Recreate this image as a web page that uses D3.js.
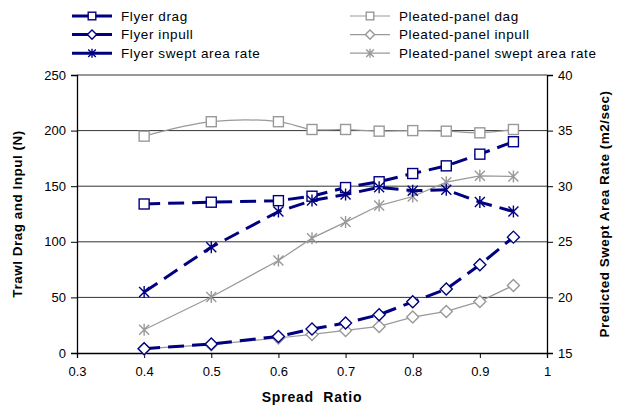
<!DOCTYPE html>
<html>
<head>
<meta charset="utf-8">
<script src="https://cdn.jsdelivr.net/npm/d3@7"></script>
<style>
  body { margin: 0; background: #fff; }
  text { font-family: "Liberation Sans", Arial, sans-serif; }
</style>
</head>
<body>
<div id="chart"></div>
<script>
// spread ratio categories
const spread = [0.4, 0.5, 0.6, 0.65, 0.7, 0.75, 0.8, 0.85, 0.9, 0.95]

// left axis (N)
const flyerDrag = [134, 135.6, 137, 141, 148.8, 154, 161.4, 168.3, 178.8, 190]
const flyerInpull = [3.9, 8.1, 14.9, 21.5, 27, 34.4, 46, 57.5, 79.3, 104.2]
const pleatedDrag = [195, 208, 208, 201, 201, 199.5, 200, 199.5, 198, 201]
const pleatedInpull = [3.9, 7.5, 13.5, 16.7, 20.3, 23.9, 32.3, 37.4, 46.4, 60.8]

// right axis (m2/sec)
const flyerSwept = [20.48, 24.52, 27.72, 28.71, 29.25, 29.9, 29.6, 29.67, 28.57, 27.72]
const pleatedSwept = [17.09, 20.03, 23.32, 25.33, 26.77, 28.26, 29.07, 30.36, 30.93, 30.87]

const xTicks = [0.3, 0.4, 0.5, 0.6, 0.7, 0.8, 0.9, 1]
const yLeftTicks = [0, 50, 100, 150, 200, 250]
const yRightTicks = [15, 20, 25, 30, 35, 40]

const W = 624, H = 410
const margin = { top: 75, right: 77, bottom: 57, left: 77 }
const width = W - margin.left - margin.right
const height = H - margin.top - margin.bottom

const navy = "#000080", gray = "#999999"

const svg = d3.select("#chart").append("svg")
  .attr("width", W).attr("height", H)

const g = svg.append("g")
  .attr("transform", `translate(${margin.left},${margin.top})`)

const x = d3.scaleLinear().domain([0.3, 1]).range([0, width])
const yL = d3.scaleLinear().domain([0, 250]).range([height, 0])
const yR = d3.scaleLinear().domain([15, 40]).range([height, 0])

// gridlines
g.append("g").selectAll("line")
  .data(yLeftTicks.filter(d => d > 0))
  .join("line")
  .attr("x1", 0).attr("x2", width)
  .attr("y1", d => yL(d)).attr("y2", d => yL(d))
  .attr("stroke", "#333").attr("stroke-width", 1)

// axes
const styleAxis = sel => {
  sel.select(".domain").attr("stroke", "#000").attr("stroke-width", 1.3)
  sel.selectAll(".tick line").attr("stroke", "#000")
  sel.selectAll(".tick text").attr("font-size", 13).attr("fill", "#000")
    .style("font-family", '"Liberation Sans", Arial, sans-serif')
}

g.append("g")
  .attr("transform", `translate(0,${height})`)
  .call(d3.axisBottom(x).tickValues(xTicks).tickFormat(d3.format("")).tickSizeOuter(0).tickSize(5).tickPadding(9))
  .call(styleAxis)

g.append("g")
  .call(d3.axisLeft(yL).tickValues(yLeftTicks).tickSizeOuter(0).tickSize(6).tickPadding(5))
  .call(styleAxis)

g.append("g")
  .attr("transform", `translate(${width},0)`)
  .call(d3.axisRight(yR).tickValues(yRightTicks).tickSizeOuter(0).tickSize(6).tickPadding(5))
  .call(styleAxis)

// markers
function drawMarker(sel, type, color, r = 5) {
  if (type === "square") {
    sel.append("rect").attr("x", -r).attr("y", -r).attr("width", 2 * r).attr("height", 2 * r)
      .attr("fill", "#fff").attr("stroke", color).attr("stroke-width", 1.4)
  } else if (type === "diamond") {
    const d = r * 1.2
    sel.append("path").attr("d", `M0,${-d}L${d},0L0,${d}L${-d},0Z`)
      .attr("fill", "#fff").attr("stroke", color).attr("stroke-width", 1.4)
  } else {
    const d = r * 1.2
    sel.append("path").attr("d", `M0,${-d}V${d}M${-r},${-r}L${r},${r}M${-r},${r}L${r},${-r}`)
      .attr("fill", "none").attr("stroke", color).attr("stroke-width", 1.4)
  }
}

const series = [
  { name: "Pleated-panel dag", values: pleatedDrag, y: yL, color: gray, marker: "square", smooth: true },
  { name: "Pleated-panel inpull", values: pleatedInpull, y: yL, color: gray, marker: "diamond" },
  { name: "Pleated-panel swept area rate", values: pleatedSwept, y: yR, color: gray, marker: "star" },
  { name: "Flyer drag", values: flyerDrag, y: yL, color: navy, marker: "square", dashed: true },
  { name: "Flyer inpull", values: flyerInpull, y: yL, color: navy, marker: "diamond", dashed: true },
  { name: "Flyer swept area rate", values: flyerSwept, y: yR, color: navy, marker: "star", dashed: true },
]

series.forEach(s => {
  const pts = spread.map((d, i) => [d, s.values[i]])
  const line = d3.line()
    .x(d => x(d[0])).y(d => s.y(d[1]))
    .curve(s.smooth ? d3.curveCatmullRom.alpha(0.5) : d3.curveLinear)
  g.append("path")
    .datum(pts)
    .attr("d", line)
    .attr("fill", "none")
    .attr("stroke", s.color)
    .attr("stroke-width", s.dashed ? 3 : 1.2)
    .attr("stroke-dasharray", s.dashed ? "16,8" : null)
  g.append("g").selectAll("g")
    .data(pts)
    .join("g")
    .attr("transform", d => `translate(${x(d[0])},${s.y(d[1])})`)
    .each(function () { drawMarker(d3.select(this), s.marker, s.color) })
})

// legend
const legendItems = [
  { col: 0, row: 0, s: series[3] }, { col: 0, row: 1, s: series[4] }, { col: 0, row: 2, s: series[5] },
  { col: 1, row: 0, s: series[0] }, { col: 1, row: 1, s: series[1] }, { col: 1, row: 2, s: series[2] },
]
const legend = svg.append("g")
legendItems.forEach(it => {
  const lx = it.col === 0 ? 72 : 350
  const ly = 16 + it.row * 18.6
  const item = legend.append("g").attr("transform", `translate(${lx},${ly})`)
  item.append("line").attr("x1", 0).attr("x2", 40).attr("y1", 0).attr("y2", 0)
    .attr("stroke", it.s.color).attr("stroke-width", it.s.dashed ? 3 : 1.2)
  drawMarker(item.append("g").attr("transform", "translate(20,0)"), it.s.marker, it.s.color, 3.8)
  item.append("text").attr("x", 49).attr("y", 0).attr("dy", "0.35em")
    .attr("font-size", 13.5).attr("letter-spacing", 0.6).text(it.s.name)
})

// axis titles
svg.append("text")
  .attr("transform", `translate(22,${margin.top + height / 2}) rotate(-90)`)
  .attr("text-anchor", "middle").attr("font-size", 13.5).attr("font-weight", "bold")
  .attr("letter-spacing", 0.5)
  .text("Trawl Drag and Inpul (N)")

svg.append("text")
  .attr("transform", `translate(609,${margin.top + height / 2}) rotate(-90)`)
  .attr("text-anchor", "middle").attr("font-size", 13.5).attr("font-weight", "bold")
  .attr("letter-spacing", 0.5)
  .text("Predicted Swept Area Rate (m2/sec)")

svg.append("text")
  .attr("x", margin.left + width / 2).attr("y", 402)
  .attr("text-anchor", "middle").attr("font-size", 14).attr("font-weight", "bold")
  .attr("letter-spacing", 0.8)
  .attr("xml:space", "preserve").style("white-space", "pre")
  .text("Spread  Ratio")
</script>
</body>
</html>
